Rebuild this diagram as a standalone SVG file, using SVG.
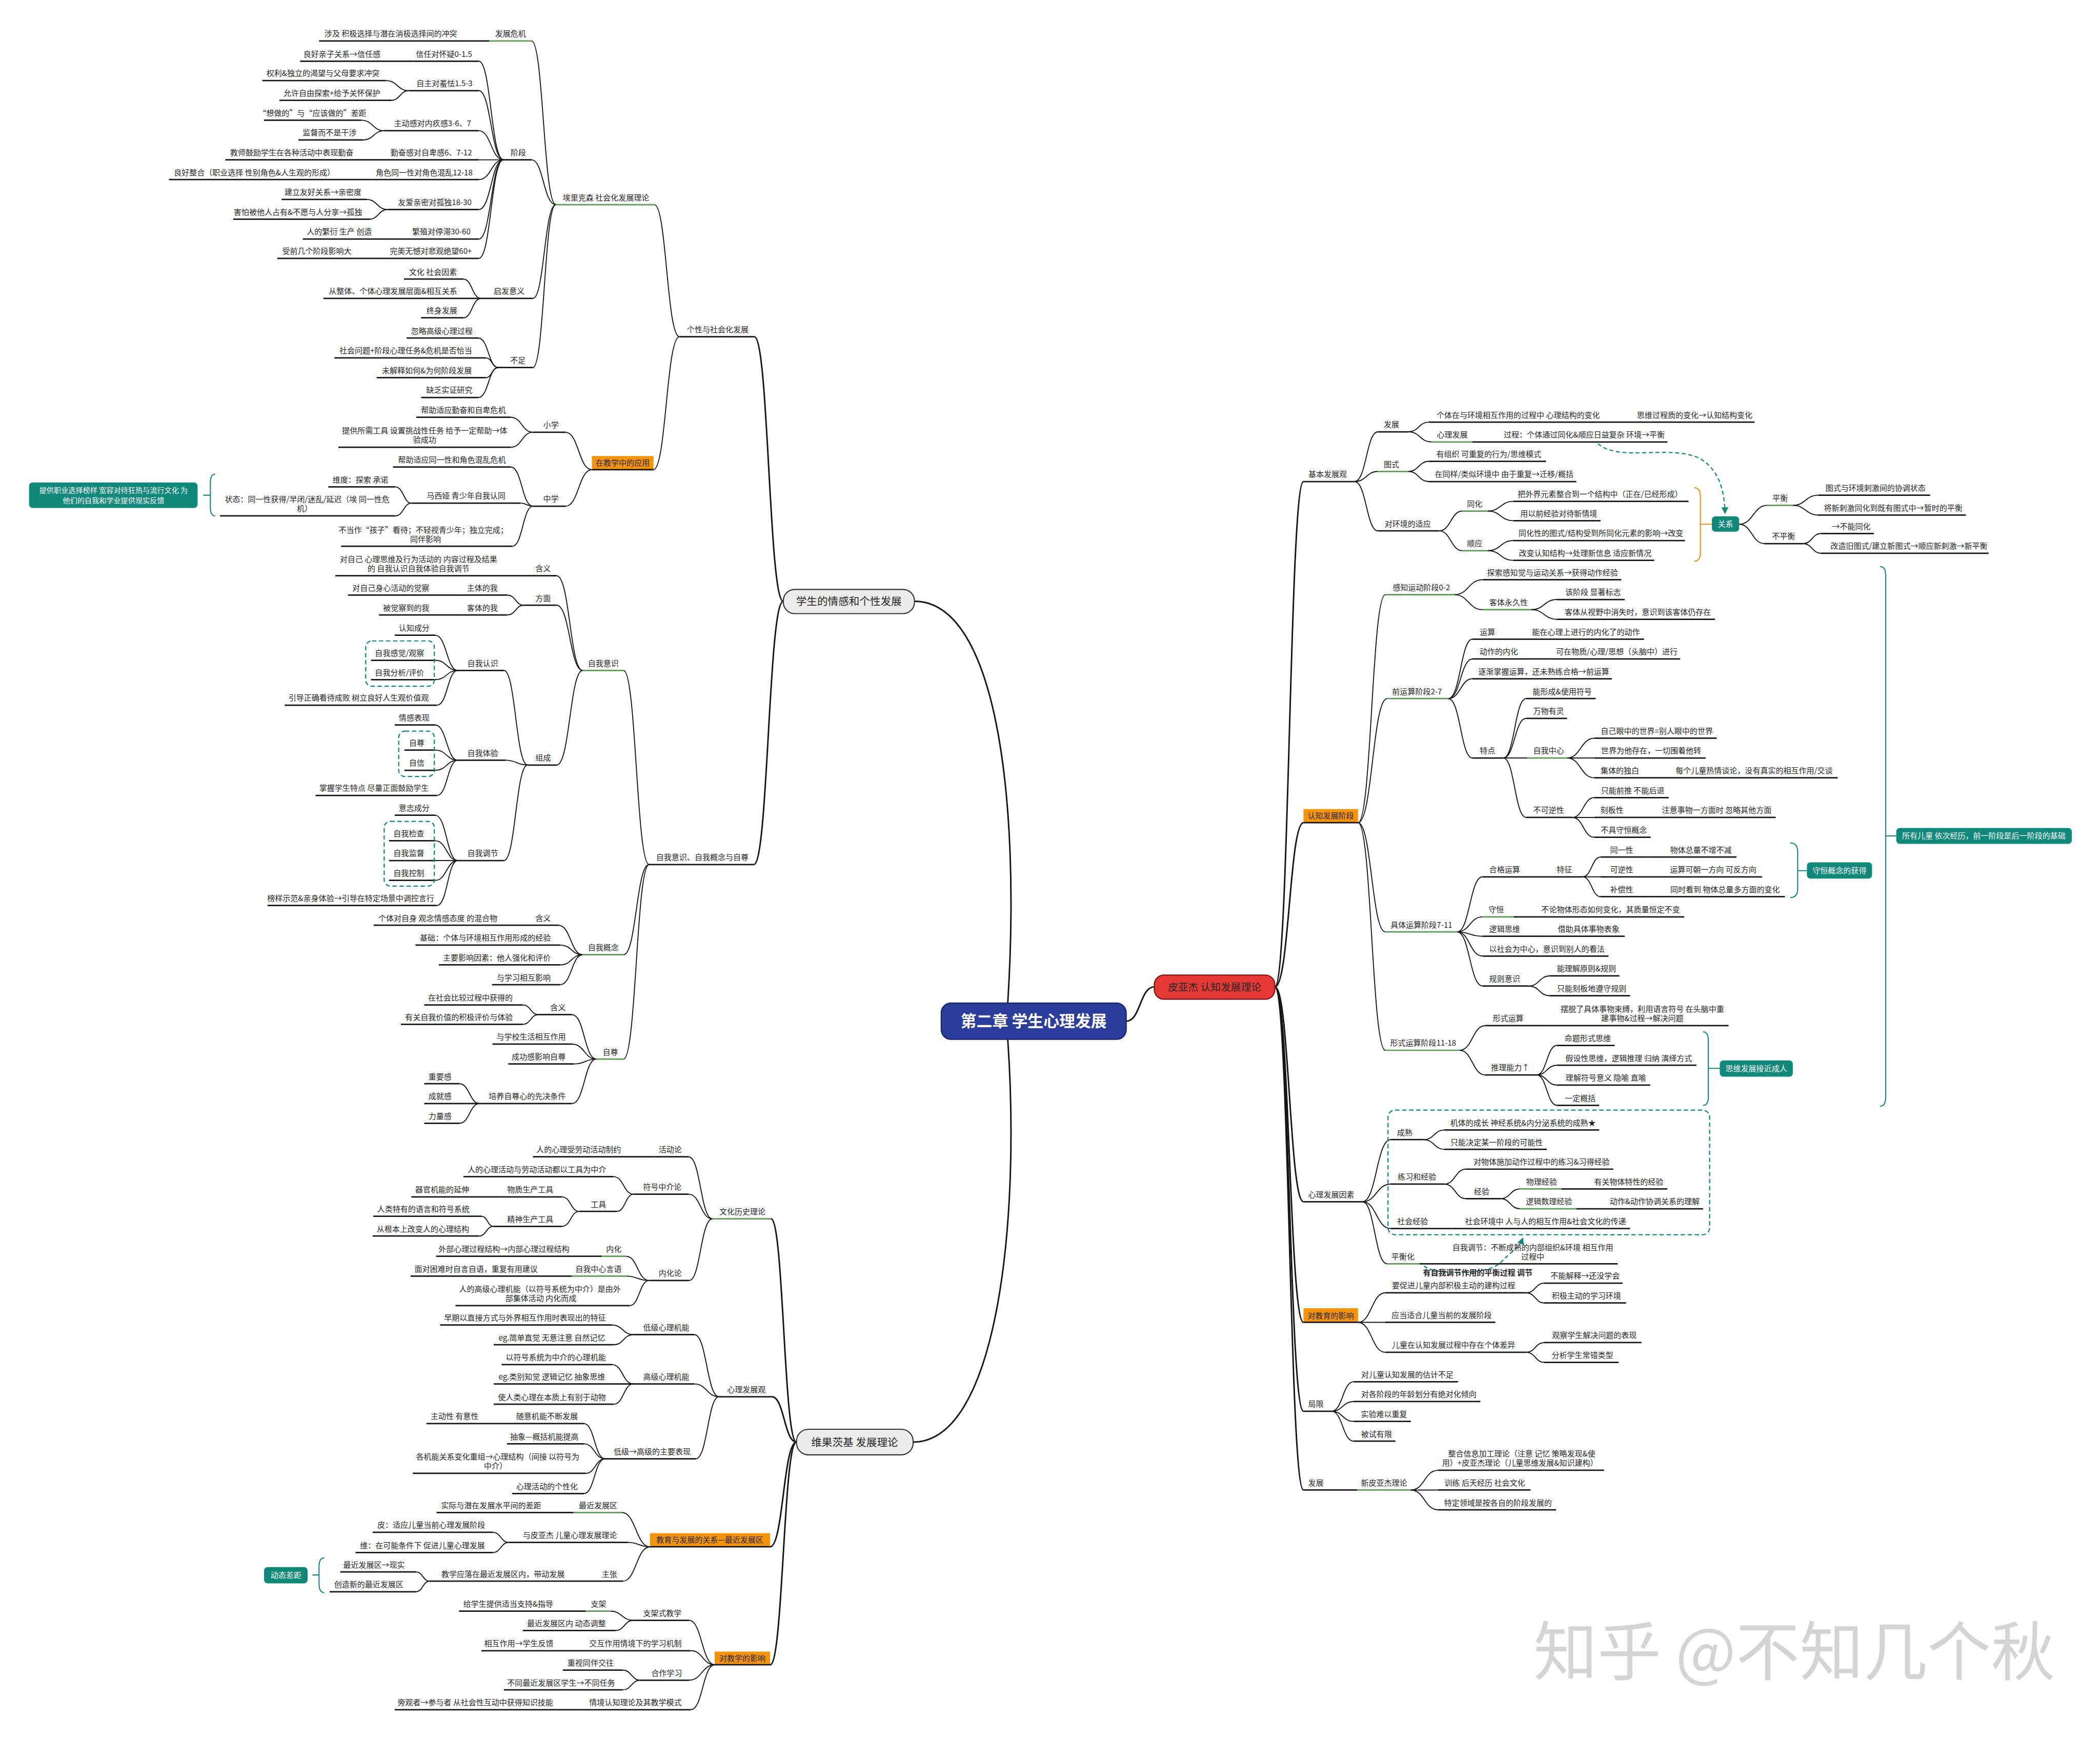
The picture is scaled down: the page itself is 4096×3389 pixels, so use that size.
<svg xmlns="http://www.w3.org/2000/svg" width="4096" height="3389" viewBox="0 0 4096 3389">
<defs>
<style>
.t{font-family:"Noto Sans CJK SC","Noto Sans",sans-serif;font-size:17.5px;fill:#262626;text-anchor:middle}
.w{fill:#fff}
.u{stroke:#151515;stroke-width:3.2;fill:none}
.g{stroke:#5b9a56;stroke-width:3.2;fill:none}
.c{fill:none;stroke:#151515;stroke-width:2.2}
.m{fill:none;stroke:#151515;stroke-width:3.4}
.ob{fill:#f5930a}
.tb{fill:#11897a}
.br{fill:none;stroke:#11897a;stroke-width:2.4}
.bro{fill:none;stroke:#f0900a;stroke-width:2.4}
.db{fill:none;stroke:#11897a;stroke-width:2.6;stroke-dasharray:10 6}
.da{fill:none;stroke:#11897a;stroke-width:2.6;stroke-dasharray:9 6}
</style>
<marker id="ah" viewBox="0 0 10 10" refX="8" refY="5" markerWidth="6" markerHeight="6" orient="auto"><path d="M0 0 L10 5 L0 10 z" fill="#11897a"/></marker>
</defs>
<rect width="4096" height="3389" fill="#fff"/>
<g transform="scale(0.85834)">
<g id="connectors">
<path class="m" d="M2078 1366 C2260 1366 2320 1800 2290 2279"/>
<path class="m" d="M2075 3276 C2260 3276 2320 2800 2290 2361"/>
<path class="m" d="M2559 2320 C2592 2320 2590 2242 2623 2242"/>
<path class="m" d="M1780 1366 C1747 1366 1747 765 1714 765"/>
<path class="m" d="M1780 1366 C1746 1366 1746 1964 1713 1964"/>
<path class="m" d="M1810 3276 C1781 3276 1781 2769 1752 2769"/>
<path class="m" d="M1810 3276 C1782 3276 1782 3173 1754 3173"/>
<path class="m" d="M1810 3276 C1780 3276 1780 3514 1750 3514"/>
<path class="m" d="M1810 3276 C1780 3276 1780 3782 1750 3782"/>
<path class="m" d="M2897 2242 C2930 2242 2930 1094 2962 1094"/>
<path class="m" d="M2897 2242 C2930 2242 2930 1869 2962 1869"/>
<path class="m" d="M2897 2242 C2930 2242 2930 2730 2962 2730"/>
<path class="m" d="M2897 2242 C2930 2242 2930 3004 2962 3004"/>
<path class="m" d="M2897 2242 C2930 2242 2930 3206 2962 3206"/>
<path class="m" d="M2897 2242 C2930 2242 2930 3385 2962 3385"/>
<path class="c" d="M1544 765 C1515 765 1515 465 1487 465"/>
<path class="c" d="M1544 765 C1514 765 1514 1067 1485 1067"/>
<path class="c" d="M1263 465 C1235 465 1235 93 1208 93"/>
<path class="c" d="M1263 465 C1235 465 1235 363 1208 363"/>
<path class="c" d="M1263 465 C1237 465 1237 678 1211 678"/>
<path class="c" d="M1263 465 C1237 465 1237 835 1211 835"/>
<path class="c" d="M1144 363 C1116 363 1116 139 1088 139"/>
<path class="c" d="M1144 363 C1116 363 1116 206 1088 206"/>
<path class="c" d="M1144 363 C1116 363 1116 297 1088 297"/>
<path class="c" d="M1144 363 H1088"/>
<path class="c" d="M1144 363 C1116 363 1116 408 1088 408"/>
<path class="c" d="M1144 363 C1116 363 1116 476 1088 476"/>
<path class="c" d="M1144 363 C1116 363 1116 543 1088 543"/>
<path class="c" d="M1144 363 C1116 363 1116 587 1088 587"/>
<path class="c" d="M929 206 C903 206 903 183 877 183"/>
<path class="c" d="M929 206 C909 206 909 228 889 228"/>
<path class="c" d="M873 297 C847 297 847 273 821 273"/>
<path class="c" d="M873 297 C849 297 849 318 825 318"/>
<path class="c" d="M881 476 C857 476 857 453 833 453"/>
<path class="c" d="M881 476 C860 476 860 498 840 498"/>
<path class="c" d="M1093 678 C1073 678 1073 634 1053 634"/>
<path class="c" d="M1093 678 C1073 678 1073 722 1053 722"/>
<path class="c" d="M1132 835 C1110 835 1110 768 1087 768"/>
<path class="c" d="M1132 835 C1118 835 1118 813 1104 813"/>
<path class="c" d="M1132 835 C1118 835 1118 858 1104 858"/>
<path class="c" d="M1132 835 C1110 835 1110 903 1087 903"/>
<path class="c" d="M1345 1067 C1315 1067 1315 982 1285 982"/>
<path class="c" d="M1345 1067 C1315 1067 1315 1150 1285 1150"/>
<path class="c" d="M1211 982 C1186 982 1186 948 1161 948"/>
<path class="c" d="M1211 982 C1186 982 1186 1016 1161 1016"/>
<path class="c" d="M1211 1150 C1186 1150 1186 1061 1161 1061"/>
<path class="c" d="M1211 1150 C1197 1150 1197 1143 1183 1143"/>
<path class="c" d="M1211 1150 C1188 1150 1188 1241 1164 1241"/>
<path class="c" d="M935 1143 C917 1143 917 1106 898 1106"/>
<path class="c" d="M935 1143 C917 1143 917 1172 898 1172"/>
<path class="c" d="M1475 1964 C1446 1964 1446 1523 1417 1523"/>
<path class="c" d="M1475 1964 C1446 1964 1446 2169 1417 2169"/>
<path class="c" d="M1475 1964 C1446 1964 1446 2406 1417 2406"/>
<path class="c" d="M1324 1523 C1295 1523 1295 1308 1265 1308"/>
<path class="c" d="M1324 1523 C1295 1523 1295 1375 1265 1375"/>
<path class="c" d="M1324 1523 C1295 1523 1295 1738 1265 1738"/>
<path class="c" d="M1190 1375 C1172 1375 1172 1352 1153 1352"/>
<path class="c" d="M1190 1375 C1172 1375 1172 1397 1153 1397"/>
<path class="c" d="M1199 1738 C1172 1738 1172 1523 1145 1523"/>
<path class="c" d="M1199 1738 C1174 1738 1174 1727 1149 1727"/>
<path class="c" d="M1199 1738 C1172 1738 1172 1955 1145 1955"/>
<path class="c" d="M1040 1523 C1015 1523 1015 1443 989 1443"/>
<path class="c" d="M1040 1523 C1015 1523 1015 1500 989 1500"/>
<path class="c" d="M1040 1523 C1015 1523 1015 1544 989 1544"/>
<path class="c" d="M1040 1523 C1017 1523 1017 1602 993 1602"/>
<path class="c" d="M1040 1727 C1015 1727 1015 1647 989 1647"/>
<path class="c" d="M1040 1727 C1015 1727 1015 1704 989 1704"/>
<path class="c" d="M1040 1727 C1015 1727 1015 1750 989 1750"/>
<path class="c" d="M1040 1727 C1017 1727 1017 1807 993 1807"/>
<path class="c" d="M1040 1955 C1015 1955 1015 1852 989 1852"/>
<path class="c" d="M1040 1955 C1015 1955 1015 1910 989 1910"/>
<path class="c" d="M1040 1955 H989"/>
<path class="c" d="M1040 1955 C1015 1955 1015 2000 989 2000"/>
<path class="c" d="M1040 1955 C1017 1955 1017 2057 993 2057"/>
<path class="c" d="M1324 2169 C1297 2169 1297 2102 1269 2102"/>
<path class="c" d="M1324 2169 C1299 2169 1299 2147 1273 2147"/>
<path class="c" d="M1324 2169 C1299 2169 1299 2192 1273 2192"/>
<path class="c" d="M1324 2169 C1299 2169 1299 2237 1273 2237"/>
<path class="c" d="M1355 2406 C1328 2406 1328 2305 1300 2305"/>
<path class="c" d="M1355 2406 C1328 2406 1328 2372 1300 2372"/>
<path class="c" d="M1355 2406 C1330 2406 1330 2417 1304 2417"/>
<path class="c" d="M1355 2406 C1328 2406 1328 2507 1300 2507"/>
<path class="c" d="M1223 2305 C1206 2305 1206 2283 1188 2283"/>
<path class="c" d="M1223 2305 C1206 2305 1206 2327 1188 2327"/>
<path class="c" d="M1090 2507 C1067 2507 1067 2462 1044 2462"/>
<path class="c" d="M1090 2507 C1067 2507 1067 2552 1044 2552"/>
<path class="c" d="M1619 2769 C1592 2769 1592 2628 1565 2628"/>
<path class="c" d="M1619 2769 C1592 2769 1592 2713 1565 2713"/>
<path class="c" d="M1619 2769 C1592 2769 1592 2909 1566 2909"/>
<path class="c" d="M1440 2713 C1417 2713 1417 2673 1394 2673"/>
<path class="c" d="M1440 2713 C1421 2713 1421 2752 1402 2752"/>
<path class="c" d="M1316 2752 C1297 2752 1297 2719 1277 2719"/>
<path class="c" d="M1316 2752 C1297 2752 1297 2786 1277 2786"/>
<path class="c" d="M1121 2786 C1108 2786 1108 2763 1094 2763"/>
<path class="c" d="M1121 2786 C1105 2786 1105 2808 1088 2808"/>
<path class="c" d="M1475 2909 C1449 2909 1449 2854 1423 2854"/>
<path class="c" d="M1475 2909 C1449 2909 1449 2899 1423 2899"/>
<path class="c" d="M1475 2909 C1453 2909 1453 2966 1431 2966"/>
<path class="c" d="M1634 3173 C1606 3173 1606 3032 1578 3032"/>
<path class="c" d="M1634 3173 C1606 3173 1606 3144 1578 3144"/>
<path class="c" d="M1634 3173 C1608 3173 1608 3314 1581 3314"/>
<path class="c" d="M1439 3032 C1415 3032 1415 3010 1391 3010"/>
<path class="c" d="M1439 3032 C1417 3032 1417 3055 1395 3055"/>
<path class="c" d="M1439 3144 C1415 3144 1415 3100 1391 3100"/>
<path class="c" d="M1439 3144 C1417 3144 1417 3190 1395 3190"/>
<path class="c" d="M1375 3314 C1351 3314 1351 3234 1327 3234"/>
<path class="c" d="M1375 3314 C1351 3314 1351 3280 1327 3280"/>
<path class="c" d="M1375 3314 C1353 3314 1353 3347 1331 3347"/>
<path class="c" d="M1375 3314 C1351 3314 1351 3393 1327 3393"/>
<path class="c" d="M1477 3514 C1445 3514 1445 3436 1413 3436"/>
<path class="c" d="M1477 3514 C1452 3514 1452 3504 1427 3504"/>
<path class="c" d="M1477 3514 C1446 3514 1446 3592 1415 3592"/>
<path class="c" d="M1156 3504 C1138 3504 1138 3481 1120 3481"/>
<path class="c" d="M1156 3504 C1138 3504 1138 3527 1120 3527"/>
<path class="c" d="M976 3592 C961 3592 961 3571 945 3571"/>
<path class="c" d="M976 3592 C961 3592 961 3616 945 3616"/>
<path class="c" d="M1624 3782 C1595 3782 1595 3681 1566 3681"/>
<path class="c" d="M1624 3782 C1597 3782 1597 3750 1570 3750"/>
<path class="c" d="M1624 3782 C1595 3782 1595 3817 1566 3817"/>
<path class="c" d="M1624 3782 C1597 3782 1597 3884 1570 3884"/>
<path class="c" d="M1439 3681 C1413 3681 1413 3660 1387 3660"/>
<path class="c" d="M1439 3681 C1419 3681 1419 3704 1399 3704"/>
<path class="c" d="M1455 3817 C1435 3817 1435 3794 1415 3794"/>
<path class="c" d="M1455 3817 C1435 3817 1435 3839 1415 3839"/>
<path class="c" d="M3078 1094 C3105 1094 3105 981 3131 981"/>
<path class="c" d="M3078 1094 C3105 1094 3105 1071 3131 1071"/>
<path class="c" d="M3078 1094 C3105 1094 3105 1206 3131 1206"/>
<path class="c" d="M3200 981 C3224 981 3224 959 3247 959"/>
<path class="c" d="M3200 981 C3227 981 3227 1004 3253 1004"/>
<path class="c" d="M3200 1071 C3224 1071 3224 1048 3247 1048"/>
<path class="c" d="M3200 1071 C3224 1071 3224 1094 3247 1094"/>
<path class="c" d="M3270 1206 C3297 1206 3297 1161 3323 1161"/>
<path class="c" d="M3270 1206 C3297 1206 3297 1251 3323 1251"/>
<path class="c" d="M3381 1161 C3410 1161 3410 1139 3439 1139"/>
<path class="c" d="M3381 1161 C3410 1161 3410 1183 3439 1183"/>
<path class="c" d="M3381 1251 C3410 1251 3410 1228 3439 1228"/>
<path class="c" d="M3381 1251 C3410 1251 3410 1273 3439 1273"/>
<path class="c" d="M3952 1191 C3984 1191 3984 1148 4016 1148"/>
<path class="c" d="M3952 1191 C3981 1191 3981 1235 4010 1235"/>
<path class="c" d="M4074 1148 C4103 1148 4103 1125 4132 1125"/>
<path class="c" d="M4074 1148 C4103 1148 4103 1170 4132 1170"/>
<path class="c" d="M4097 1235 C4118 1235 4118 1212 4138 1212"/>
<path class="c" d="M4097 1235 C4118 1235 4118 1257 4138 1257"/>
<path class="c" d="M3086 1869 C3117 1869 3117 1351 3148 1351"/>
<path class="c" d="M3086 1869 C3119 1869 3119 1587 3152 1587"/>
<path class="c" d="M3086 1869 C3117 1869 3117 2117 3148 2117"/>
<path class="c" d="M3086 1869 C3117 1869 3117 2386 3148 2386"/>
<path class="c" d="M3305 1351 C3337 1351 3337 1317 3369 1317"/>
<path class="c" d="M3305 1351 C3337 1351 3337 1385 3369 1385"/>
<path class="c" d="M3480 1385 C3509 1385 3509 1362 3538 1362"/>
<path class="c" d="M3480 1385 C3509 1385 3509 1407 3538 1407"/>
<path class="c" d="M3291 1587 C3319 1587 3319 1452 3346 1452"/>
<path class="c" d="M3291 1587 C3319 1587 3319 1497 3346 1497"/>
<path class="c" d="M3291 1587 C3319 1587 3319 1542 3346 1542"/>
<path class="c" d="M3291 1587 C3319 1587 3319 1722 3346 1722"/>
<path class="c" d="M3416 1722 C3442 1722 3442 1587 3468 1587"/>
<path class="c" d="M3416 1722 C3442 1722 3442 1632 3468 1632"/>
<path class="c" d="M3416 1722 H3471"/>
<path class="c" d="M3416 1722 C3442 1722 3442 1857 3468 1857"/>
<path class="c" d="M3561 1722 C3592 1722 3592 1677 3623 1677"/>
<path class="c" d="M3561 1722 H3623"/>
<path class="c" d="M3561 1722 C3592 1722 3592 1767 3623 1767"/>
<path class="c" d="M3573 1857 C3598 1857 3598 1812 3623 1812"/>
<path class="c" d="M3573 1857 H3623"/>
<path class="c" d="M3573 1857 C3598 1857 3598 1902 3623 1902"/>
<path class="c" d="M3311 2117 C3340 2117 3340 1992 3369 1992"/>
<path class="c" d="M3311 2117 C3340 2117 3340 2083 3369 2083"/>
<path class="c" d="M3311 2117 C3340 2117 3340 2127 3369 2127"/>
<path class="c" d="M3311 2117 C3340 2117 3340 2172 3369 2172"/>
<path class="c" d="M3311 2117 C3340 2117 3340 2240 3369 2240"/>
<path class="c" d="M3596 1992 C3617 1992 3617 1947 3637 1947"/>
<path class="c" d="M3596 1992 H3637"/>
<path class="c" d="M3596 1992 C3617 1992 3617 2037 3637 2037"/>
<path class="c" d="M3474 2240 C3498 2240 3498 2217 3521 2217"/>
<path class="c" d="M3474 2240 C3498 2240 3498 2262 3521 2262"/>
<path class="c" d="M3317 2386 C3346 2386 3346 2330 3375 2330"/>
<path class="c" d="M3317 2386 C3346 2386 3346 2442 3375 2442"/>
<path class="c" d="M3492 2442 C3515 2442 3515 2375 3538 2375"/>
<path class="c" d="M3492 2442 C3515 2442 3515 2420 3538 2420"/>
<path class="c" d="M3492 2442 C3515 2442 3515 2465 3538 2465"/>
<path class="c" d="M3492 2442 C3515 2442 3515 2511 3538 2511"/>
<path class="c" d="M3096 2730 C3128 2730 3128 2589 3160 2589"/>
<path class="c" d="M3096 2730 C3128 2730 3128 2690 3160 2690"/>
<path class="c" d="M3096 2730 C3128 2730 3128 2791 3160 2791"/>
<path class="c" d="M3096 2730 C3124 2730 3124 2871 3152 2871"/>
<path class="c" d="M3235 2589 C3259 2589 3259 2567 3282 2567"/>
<path class="c" d="M3235 2589 C3259 2589 3259 2611 3282 2611"/>
<path class="c" d="M3282 2690 C3307 2690 3307 2656 3331 2656"/>
<path class="c" d="M3282 2690 C3307 2690 3307 2723 3331 2723"/>
<path class="c" d="M3410 2723 C3432 2723 3432 2701 3454 2701"/>
<path class="c" d="M3410 2723 C3432 2723 3432 2746 3454 2746"/>
<path class="c" d="M3086 3004 C3117 3004 3117 2937 3148 2937"/>
<path class="c" d="M3086 3004 H3148"/>
<path class="c" d="M3086 3004 C3117 3004 3117 3072 3148 3072"/>
<path class="c" d="M3468 2937 C3489 2937 3489 2915 3509 2915"/>
<path class="c" d="M3468 2937 C3489 2937 3489 2960 3509 2960"/>
<path class="c" d="M3468 3072 C3489 3072 3489 3050 3509 3050"/>
<path class="c" d="M3468 3072 C3489 3072 3489 3095 3509 3095"/>
<path class="c" d="M3026 3206 C3051 3206 3051 3139 3076 3139"/>
<path class="c" d="M3026 3206 C3051 3206 3051 3184 3076 3184"/>
<path class="c" d="M3026 3206 C3051 3206 3051 3229 3076 3229"/>
<path class="c" d="M3026 3206 C3051 3206 3051 3274 3076 3274"/>
<path class="c" d="M3206 3385 C3237 3385 3237 3340 3268 3340"/>
<path class="c" d="M3206 3385 H3268"/>
<path class="c" d="M3206 3385 C3237 3385 3237 3430 3268 3430"/>
<path class="da" d="M3631 1008 C3680 1050 3790 1010 3860 1040 C3905 1065 3918 1110 3920 1165" marker-end="url(#ah)"/>
<path class="da" d="M3236 2876 C3262 2898 3385 2896 3410 2868 C3440 2838 3452 2835 3460 2814" marker-end="url(#ah)"/>
</g>

<g id="center"><rect x="2139" y="2279" width="420" height="82" rx="22" fill="#2c3d9b" stroke="#1c2a70" stroke-width="3"/><text class="t w" x="2349" y="2333" style="font-size:36px;font-weight:700">第二章 学生心理发展</text></g>
<g id="n-qg"><rect x="1780" y="1339" width="298" height="55" rx="26" fill="#ececec" stroke="#333" stroke-width="2.5"/><text class="t" x="1929" y="1375" style="font-size:24px">学生的情感和个性发展</text></g>
<g id="n-wgcj"><rect x="1810" y="3247" width="265" height="58" rx="27" fill="#ececec" stroke="#333" stroke-width="2.5"/><text class="t" x="1942" y="3285" style="font-size:24px">维果茨基 发展理论</text></g>
<g id="n-pyj"><rect x="2623" y="2215" width="274" height="55" rx="22" fill="#e53935" stroke="#7a1010" stroke-width="2.5"/><text class="t" x="2760" y="2251" style="font-size:23px">皮亚杰 认知发展理论</text></g>

<g id="n1"><path class="u" d="M1544 765H1714"/><text class="t" x="1631" y="755">个性与社会化发展</text></g>
<g id="n2"><path class="g" d="M1263 465H1487"/><text class="t" x="1377" y="455">埃里克森 社会化发展理论</text></g>
<g id="n3"><path class="g" d="M1112 93H1208"/><text class="t" x="1160" y="83">发展危机</text></g>
<g id="n3a"><path class="u" d="M725 93H1112"/><text class="t" x="888" y="83">涉及 积极选择与潜在消极选择间的冲突</text></g>
<g id="n4"><path class="u" d="M1144 363H1208"/><text class="t" x="1178" y="353">阶段</text></g>
<g id="n5"><path class="u" d="M940 139H1088"/><text class="t" x="1009" y="129">信任对怀疑0-1.5</text></g>
<g id="n5a"><path class="u" d="M682 139H940"/><text class="t" x="777" y="129">良好亲子关系→信任感</text></g>
<g id="n6"><path class="u" d="M929 206H1088"/><text class="t" x="1010" y="196">自主对羞怯1.5-3</text></g>
<g id="n6a"><path class="u" d="M596 183H877"/><text class="t" x="734" y="173">权利&amp;独立的渴望与父母要求冲突</text></g>
<g id="n6b"><path class="u" d="M635 228H889"/><text class="t" x="754" y="218">允许自由探索+给予关怀保护</text></g>
<g id="n7"><path class="u" d="M873 297H1088"/><text class="t" x="983" y="287">主动感对内疚感3-6、7</text></g>
<g id="n7a"><path class="u" d="M600 273H821"/><text class="t" x="710" y="263">“想做的”与“应该做的”差距</text></g>
<g id="n7b"><path class="u" d="M678 318H825"/><text class="t" x="749" y="308">监督而不是干涉</text></g>
<g id="n8"><path class="u" d="M875 363H1088"/><text class="t" x="980" y="353">勤奋感对自卑感6、7-12</text></g>
<g id="n8a"><path class="u" d="M512 363H875"/><text class="t" x="663" y="353">教师鼓励学生在各种活动中表现勤奋</text></g>
<g id="n9"><path class="u" d="M845 408H1088"/><text class="t" x="964" y="398">角色同一性对角色混乱12-18</text></g>
<g id="n9a"><path class="u" d="M384 408H845"/><text class="t" x="578" y="398">良好整合（职业选择 性别角色&amp;人生观的形成）</text></g>
<g id="n10"><path class="u" d="M881 476H1088"/><text class="t" x="988" y="466">友爱亲密对孤独18-30</text></g>
<g id="n10a"><path class="u" d="M640 453H833"/><text class="t" x="734" y="443">建立友好关系→亲密度</text></g>
<g id="n10b"><path class="u" d="M530 498H840"/><text class="t" x="677" y="488">害怕被他人占有&amp;不愿与人分享→孤独</text></g>
<g id="n11"><path class="u" d="M920 543H1088"/><text class="t" x="1003" y="533">繁殖对停滞30-60</text></g>
<g id="n11a"><path class="u" d="M688 543H920"/><text class="t" x="771" y="533">人的繁衍 生产 创造</text></g>
<g id="n12"><path class="u" d="M875 587H1088"/><text class="t" x="979" y="577">完美无憾对悲观绝望60+</text></g>
<g id="n12a"><path class="u" d="M630 587H875"/><text class="t" x="720" y="577">受前几个阶段影响大</text></g>
<g id="n13"><path class="u" d="M1093 678H1211"/><text class="t" x="1157" y="668">启发意义</text></g>
<g id="n13a"><path class="u" d="M918 634H1053"/><text class="t" x="984" y="624">文化 社会因素</text></g>
<g id="n13b"><path class="u" d="M735 678H1093"/><text class="t" x="893" y="668">从整体、个体心理发展层面&amp;相互关系</text></g>
<g id="n13c"><path class="u" d="M957 722H1053"/><text class="t" x="1004" y="712">终身发展</text></g>
<g id="n14"><path class="u" d="M1132 835H1211"/><text class="t" x="1177" y="825">不足</text></g>
<g id="n14a"><path class="u" d="M924 768H1087"/><text class="t" x="1004" y="758">忽略高级心理过程</text></g>
<g id="n14b"><path class="u" d="M760 813H1104"/><text class="t" x="922" y="803">社会问题+阶段心理任务&amp;危机是否恰当</text></g>
<g id="n14c"><path class="u" d="M856 858H1104"/><text class="t" x="970" y="848">未解释如何&amp;为何阶段发展</text></g>
<g id="n14d"><path class="u" d="M957 903H1087"/><text class="t" x="1021" y="893">缺乏实证研究</text></g>
<g id="n15"><rect class="ob" x="1345" y="1036" width="140" height="31"/><path class="u" d="M1345 1067H1485"/><text class="t" x="1415" y="1058">在教学中的应用</text></g>
<g id="n16"><path class="u" d="M1211 982H1285"/><text class="t" x="1252" y="972">小学</text></g>
<g id="n16a"><path class="u" d="M946 948H1161"/><text class="t" x="1053" y="938">帮助适应勤奋和自卑危机</text></g>
<g id="n16b"><path class="u" d="M769 1016H1161"/><text class="t" x="965" y="985">提供所需工具 设置挑战性任务 给予一定帮助→体</text><text class="t" x="965" y="1006">验成功</text></g>
<g id="n17"><path class="u" d="M1211 1150H1285"/><text class="t" x="1252" y="1140">中学</text></g>
<g id="n17a"><path class="u" d="M893 1061H1161"/><text class="t" x="1027" y="1051">帮助适应同一性和角色混乱危机</text></g>
<g id="n17b"><path class="u" d="M935 1143H1183"/><text class="t" x="1059" y="1133">马西娅 青少年自我认同</text></g>
<g id="n17b1"><path class="u" d="M746 1106H898"/><text class="t" x="819" y="1096">维度：探索 承诺</text></g>
<g id="n17b2"><path class="u" d="M500 1172H898"/><text class="t" x="698" y="1141">状态：同一性获得/早闭/迷乱/延迟（埃 同一性危</text><text class="t" x="692" y="1162">机）</text></g>
<g id="n17c"><path class="u" d="M775 1241H1164"/><text class="t" x="962" y="1210">不当作“孩子”看待；不轻视青少年；独立完成；</text><text class="t" x="967" y="1231">同伴影响</text></g>
<g id="callout1"><path class="br" d="M489 1077 Q478 1077 478 1097 L478 1152 Q478 1172 489 1172 M478 1125 H462"/><rect class="tb" x="66" y="1096" width="383" height="58" rx="8"/><text class="t w" x="258" y="1120" style="font-size:16.5px">提供职业选择榜样 宽容对待狂热与流行文化 为</text><text class="t w" x="258" y="1143" style="font-size:16.5px">他们的自我和学业提供现实反馈</text></g>

<g id="n20"><path class="u" d="M1475 1964H1713"/><text class="t" x="1596" y="1954">自我意识、自我概念与自尊</text></g>
<g id="n21"><path class="g" d="M1324 1523H1417"/><text class="t" x="1371" y="1513">自我意识</text></g>
<g id="n21a"><path class="u" d="M1207 1308H1265"/><text class="t" x="1234" y="1298">含义</text></g>
<g id="n21a1"><path class="u" d="M762 1308H1207"/><text class="t" x="951" y="1277">对自己 心理思维及行为活动的 内容过程及结果</text><text class="t" x="951" y="1298">的 自我认识自我体验自我调节</text></g>
<g id="n21b"><path class="u" d="M1190 1375H1265"/><text class="t" x="1234" y="1365">方面</text></g>
<g id="n21b1"><path class="u" d="M1051 1352H1153"/><text class="t" x="1096" y="1342">主体的我</text></g>
<g id="n21b1a"><path class="u" d="M791 1352H1051"/><text class="t" x="888" y="1342">对自己身心活动的觉察</text></g>
<g id="n21b2"><path class="u" d="M1051 1397H1153"/><text class="t" x="1096" y="1387">客体的我</text></g>
<g id="n21b2a"><path class="u" d="M861 1397H1051"/><text class="t" x="923" y="1387">被觉察到的我</text></g>
<g id="n21c"><path class="u" d="M1199 1738H1265"/><text class="t" x="1234" y="1728">组成</text></g>
<g id="n21c1"><path class="u" d="M1040 1523H1145"/><text class="t" x="1097" y="1513">自我认识</text></g>
<g id="n21c1a"><path class="u" d="M897 1443H989"/><text class="t" x="941" y="1433">认知成分</text></g>
<g id="n21c1b"><path class="u" d="M843 1500H989"/><text class="t" x="908" y="1490">自我感觉/观察</text></g>
<g id="n21c1c"><path class="u" d="M843 1544H989"/><text class="t" x="908" y="1534">自我分析/评价</text></g>
<rect class="db" x="831" y="1456" width="156" height="103" rx="14"/>
<g id="n21c1d"><path class="u" d="M647 1602H993"/><text class="t" x="815" y="1592">引导正确看待成败 树立良好人生观价值观</text></g>
<g id="n21c2"><path class="u" d="M1040 1727H1149"/><text class="t" x="1097" y="1717">自我体验</text></g>
<g id="n21c2a"><path class="u" d="M897 1647H989"/><text class="t" x="941" y="1637">情感表现</text></g>
<g id="n21c2b"><path class="u" d="M919 1704H989"/><text class="t" x="947" y="1694">自尊</text></g>
<g id="n21c2c"><path class="u" d="M919 1750H989"/><text class="t" x="947" y="1740">自信</text></g>
<rect class="db" x="906" y="1661" width="81" height="103" rx="14"/>
<g id="n21c2d"><path class="u" d="M717 1807H993"/><text class="t" x="850" y="1797">掌握学生特点 尽量正面鼓励学生</text></g>
<g id="n21c3"><path class="u" d="M1040 1955H1145"/><text class="t" x="1097" y="1945">自我调节</text></g>
<g id="n21c3a"><path class="u" d="M897 1852H989"/><text class="t" x="941" y="1842">意志成分</text></g>
<g id="n21c3b"><path class="u" d="M884 1910H989"/><text class="t" x="929" y="1900">自我检查</text></g>
<g id="n21c3c"><path class="u" d="M884 1955H989"/><text class="t" x="929" y="1945">自我监督</text></g>
<g id="n21c3d"><path class="u" d="M884 2000H989"/><text class="t" x="929" y="1990">自我控制</text></g>
<rect class="db" x="873" y="1866" width="114" height="147" rx="14"/>
<g id="n21c3e"><path class="u" d="M608 2057H993"/><text class="t" x="797" y="2047">榜样示范&amp;亲身体验→引导在特定场景中调控言行</text></g>
<g id="n22"><path class="g" d="M1324 2169H1417"/><text class="t" x="1371" y="2159">自我概念</text></g>
<g id="n22a"><path class="u" d="M1207 2102H1269"/><text class="t" x="1234" y="2092">含义</text></g>
<g id="n22a1"><path class="u" d="M849 2102H1207"/><text class="t" x="995" y="2092">个体对自身 观念情感态度 的混合物</text></g>
<g id="n22b"><path class="u" d="M944 2147H1273"/><text class="t" x="1103" y="2137">基础：个体与环境相互作用形成的经验</text></g>
<g id="n22c"><path class="u" d="M997 2192H1273"/><text class="t" x="1129" y="2182">主要影响因素：他人强化和评价</text></g>
<g id="n22d"><path class="u" d="M1118 2237H1273"/><text class="t" x="1190" y="2227">与学习相互影响</text></g>
<g id="n23"><path class="g" d="M1355 2406H1417"/><text class="t" x="1387" y="2396">自尊</text></g>
<g id="n23a"><path class="u" d="M1223 2305H1300"/><text class="t" x="1268" y="2295">含义</text></g>
<g id="n23a1"><path class="u" d="M964 2283H1188"/><text class="t" x="1069" y="2273">在社会比较过程中获得的</text></g>
<g id="n23a2"><path class="u" d="M911 2327H1188"/><text class="t" x="1043" y="2317">有关自我价值的积极评价与体验</text></g>
<g id="n23b"><path class="u" d="M1119 2372H1300"/><text class="t" x="1207" y="2362">与学校生活相互作用</text></g>
<g id="n23c"><path class="u" d="M1155 2417H1304"/><text class="t" x="1224" y="2407">成功感影响自尊</text></g>
<g id="n23d"><path class="u" d="M1090 2507H1300"/><text class="t" x="1198" y="2497">培养自尊心的先决条件</text></g>
<g id="n23d1"><path class="u" d="M964 2462H1044"/><text class="t" x="1000" y="2452">重要感</text></g>
<g id="n23d2"><path class="u" d="M964 2507H1090"/><text class="t" x="1000" y="2497">成就感</text></g>
<g id="n23d3"><path class="u" d="M964 2552H1044"/><text class="t" x="1000" y="2542">力量感</text></g>

<g id="n30"><path class="g" d="M1619 2769H1752"/><text class="t" x="1687" y="2759">文化历史理论</text></g>
<g id="n30a"><path class="u" d="M1487 2628H1565"/><text class="t" x="1523" y="2618">活动论</text></g>
<g id="n30a1"><path class="u" d="M1211 2628H1487"/><text class="t" x="1315" y="2618">人的心理受劳动活动制约</text></g>
<g id="n30b"><path class="u" d="M1440 2713H1565"/><text class="t" x="1505" y="2703">符号中介论</text></g>
<g id="n30b1"><path class="u" d="M1053 2673H1394"/><text class="t" x="1220" y="2663">人的心理活动与劳动活动都以工具为中介</text></g>
<g id="n30b2"><path class="u" d="M1316 2752H1402"/><text class="t" x="1360" y="2742">工具</text></g>
<g id="n30b2a"><path class="u" d="M1135 2719H1277"/><text class="t" x="1205" y="2709">物质生产工具</text></g>
<g id="n30b2a1"><path class="u" d="M935 2719H1135"/><text class="t" x="1005" y="2709">器官机能的延伸</text></g>
<g id="n30b2b"><path class="u" d="M1121 2786H1277"/><text class="t" x="1205" y="2776">精神生产工具</text></g>
<g id="n30b2b1"><path class="u" d="M848 2763H1094"/><text class="t" x="962" y="2753">人类特有的语言和符号系统</text></g>
<g id="n30b2b2"><path class="u" d="M847 2808H1088"/><text class="t" x="961" y="2798">从根本上改变人的心理结构</text></g>
<g id="n30c"><path class="u" d="M1475 2909H1566"/><text class="t" x="1523" y="2899">内化论</text></g>
<g id="n30c1"><path class="g" d="M1367 2854H1423"/><text class="t" x="1395" y="2844">内化</text></g>
<g id="n30c1a"><path class="u" d="M991 2854H1367"/><text class="t" x="1145" y="2844">外部心理过程结构→内部心理过程结构</text></g>
<g id="n30c2"><path class="g" d="M1299 2899H1423"/><text class="t" x="1360" y="2889">自我中心言语</text></g>
<g id="n30c2a"><path class="u" d="M933 2899H1299"/><text class="t" x="1082" y="2889">面对困难时自言自语，重复有用建议</text></g>
<g id="n30c3"><path class="u" d="M1035 2966H1431"/><text class="t" x="1227" y="2935">人的高级心理机能（以符号系统为中介）是由外</text><text class="t" x="1229" y="2956">部集体活动 内化而成</text></g>
<g id="n31"><path class="u" d="M1634 3173H1754"/><text class="t" x="1696" y="3163">心理发展观</text></g>
<g id="n31a"><path class="u" d="M1439 3032H1578"/><text class="t" x="1514" y="3022">低级心理机能</text></g>
<g id="n31a1"><path class="u" d="M1000 3010H1391"/><text class="t" x="1193" y="3000">早期以直接方式与外界相互作用时表现出的特征</text></g>
<g id="n31a2"><path class="u" d="M1122 3055H1395"/><text class="t" x="1254" y="3045">eg.简单直觉 无意注意 自然记忆</text></g>
<g id="n31b"><path class="u" d="M1439 3144H1578"/><text class="t" x="1514" y="3134">高级心理机能</text></g>
<g id="n31b1"><path class="u" d="M1140 3100H1391"/><text class="t" x="1263" y="3090">以符号系统为中介的心理机能</text></g>
<g id="n31b2"><path class="u" d="M1122 3144H1439"/><text class="t" x="1254" y="3134">eg.类别知觉 逻辑记忆 抽象思维</text></g>
<g id="n31b3"><path class="u" d="M1122 3190H1395"/><text class="t" x="1254" y="3180">使人类心理在本质上有别于动物</text></g>
<g id="n31c"><path class="u" d="M1375 3314H1581"/><text class="t" x="1482" y="3304">低级→高级的主要表现</text></g>
<g id="n31c1"><path class="u" d="M1164 3234H1327"/><text class="t" x="1243" y="3224">随意机能不断发展</text></g>
<g id="n31c1a"><path class="u" d="M969 3234H1164"/><text class="t" x="1033" y="3224">主动性 有意性</text></g>
<g id="n31c2"><path class="u" d="M1152 3280H1327"/><text class="t" x="1237" y="3270">抽象—概括机能提高</text></g>
<g id="n31c3"><path class="u" d="M938 3347H1331"/><text class="t" x="1131" y="3316">各机能关系变化重组→心理结构（间接 以符号为</text><text class="t" x="1126" y="3337">中介）</text></g>
<g id="n31c4"><path class="u" d="M1164 3393H1327"/><text class="t" x="1243" y="3383">心理活动的个性化</text></g>
<g id="n32"><rect class="ob" x="1477" y="3483" width="273" height="31"/><path class="u" d="M1477 3514H1750"/><text class="t" x="1613" y="3505">教育与发展的关系—最近发展区</text></g>
<g id="n32a"><path class="g" d="M1303 3436H1413"/><text class="t" x="1359" y="3426">最近发展区</text></g>
<g id="n32a1"><path class="u" d="M992 3436H1303"/><text class="t" x="1116" y="3426">实际与潜在发展水平间的差距</text></g>
<g id="n32b"><path class="u" d="M1156 3504H1427"/><text class="t" x="1295" y="3494">与皮亚杰 儿童心理发展理论</text></g>
<g id="n32b1"><path class="u" d="M847 3481H1120"/><text class="t" x="980" y="3471">皮：适应儿童当前心理发展阶段</text></g>
<g id="n32b2"><path class="u" d="M808 3527H1120"/><text class="t" x="960" y="3517">维：在可能条件下 促进儿童心理发展</text></g>
<g id="n32c"><path class="u" d="M1291 3592H1415"/><text class="t" x="1385" y="3582">主张</text></g>
<g id="n32c1"><path class="u" d="M976 3592H1291"/><text class="t" x="1143" y="3582">教学应落在最近发展区内，带动发展</text></g>
<g id="n32c1a"><path class="u" d="M773 3571H945"/><text class="t" x="850" y="3561">最近发展区→现实</text></g>
<g id="n32c1b"><path class="u" d="M749 3616H945"/><text class="t" x="838" y="3606">创造新的最近发展区</text></g>
<g id="callout2"><path class="br" d="M737 3539 Q725 3539 725 3559 L725 3598 Q725 3618 737 3618 M725 3578 H710"/><rect class="tb" x="600" y="3560" width="99" height="37" rx="8"/><text class="t w" x="650" y="3585">动态差距</text></g>
<g id="n33"><rect class="ob" x="1624" y="3752" width="126" height="30"/><path class="u" d="M1624 3782H1750"/><text class="t" x="1687" y="3773">对教学的影响</text></g>
<g id="n33a"><path class="u" d="M1439 3681H1566"/><text class="t" x="1505" y="3671">支架式教学</text></g>
<g id="n33a1"><path class="g" d="M1331 3660H1387"/><text class="t" x="1360" y="3650">支架</text></g>
<g id="n33a1a"><path class="u" d="M1043 3660H1331"/><text class="t" x="1155" y="3650">给学生提供适当支持&amp;指导</text></g>
<g id="n33a2"><path class="u" d="M1188 3704H1399"/><text class="t" x="1287" y="3694">最近发展区内 动态调整</text></g>
<g id="n33b"><path class="u" d="M1327 3750H1570"/><text class="t" x="1444" y="3740">交互作用情境下的学习机制</text></g>
<g id="n33b1"><path class="u" d="M1094 3750H1327"/><text class="t" x="1179" y="3740">相互作用→学生反馈</text></g>
<g id="n33c"><path class="u" d="M1455 3817H1566"/><text class="t" x="1515" y="3807">合作学习</text></g>
<g id="n33c1"><path class="u" d="M1279 3794H1415"/><text class="t" x="1342" y="3784">重视同伴交往</text></g>
<g id="n33c2"><path class="u" d="M1145 3839H1415"/><text class="t" x="1275" y="3829">不同最近发展区学生→不同任务</text></g>
<g id="n33d"><path class="u" d="M1327 3884H1570"/><text class="t" x="1444" y="3874">情境认知理论及其教学模式</text></g>
<g id="n33d1"><path class="u" d="M897 3884H1327"/><text class="t" x="1080" y="3874">旁观者→参与者 从社会性互动中获得知识技能</text></g>

<g id="n40"><path class="u" d="M2962 1094H3078"/><text class="t" x="3017" y="1084">基本发展观</text></g>
<g id="n40a"><path class="u" d="M3131 981H3200"/><text class="t" x="3162" y="971">发展</text></g>
<g id="n40a1"><path class="u" d="M3247 959H3713"/><text class="t" x="3450" y="949">个体在与环境相互作用的过程中 心理结构的变化</text></g>
<g id="n40a1a"><path class="u" d="M3713 959H3987"/><text class="t" x="3851" y="949">思维过程质的变化→认知结构变化</text></g>
<g id="n40a2"><path class="g" d="M3253 1004H3346"/><text class="t" x="3300" y="994">心理发展</text></g>
<g id="n40a2a"><path class="u" d="M3346 1004H3789"/><text class="t" x="3600" y="994">过程：个体通过同化&amp;顺应日益复杂 环境→平衡</text></g>
<g id="n40b"><path class="g" d="M3131 1071H3200"/><text class="t" x="3162" y="1061">图式</text></g>
<g id="n40b1"><path class="u" d="M3247 1048H3513"/><text class="t" x="3383" y="1038">有组织 可重复的行为/思维模式</text></g>
<g id="n40b2"><path class="u" d="M3247 1094H3582"/><text class="t" x="3418" y="1084">在同样/类似环境中 由于重复→迁移/概括</text></g>
<g id="n40c"><path class="u" d="M3131 1206H3270"/><text class="t" x="3199" y="1196">对环境的适应</text></g>
<g id="n40c1"><path class="g" d="M3323 1161H3381"/><text class="t" x="3351" y="1151">同化</text></g>
<g id="n40c1a"><path class="u" d="M3439 1139H3837"/><text class="t" x="3636" y="1129">把外界元素整合到一个结构中（正在/已经形成）</text></g>
<g id="n40c1b"><path class="u" d="M3439 1183H3637"/><text class="t" x="3542" y="1173">用以前经验对待新情境</text></g>
<g id="n40c2"><path class="g" d="M3323 1251H3381"/><text class="t" x="3351" y="1241">顺应</text></g>
<g id="n40c2a"><path class="u" d="M3439 1228H3829"/><text class="t" x="3638" y="1218">同化性的图式/结构受到所同化元素的影响→改变</text></g>
<g id="n40c2b"><path class="u" d="M3439 1273H3759"/><text class="t" x="3602" y="1263">改变认知结构→处理新信息 适应新情况</text></g>
<path class="bro" d="M3850 1108 Q3864 1108 3864 1128 L3864 1255 Q3864 1275 3850 1275 M3864 1191 H3890"/>
<g id="n-gx"><rect class="tb" x="3890" y="1173" width="62" height="35" rx="8"/><text class="t w" x="3921" y="1197">关系</text></g>
<g id="n41a"><path class="g" d="M4016 1148H4074"/><text class="t" x="4045" y="1138">平衡</text></g>
<g id="n41a1"><path class="u" d="M4132 1125H4386"/><text class="t" x="4262" y="1115">图式与环境刺激间的协调状态</text></g>
<g id="n41a2"><path class="u" d="M4132 1170H4467"/><text class="t" x="4302" y="1160">将新刺激同化到既有图式中→暂时的平衡</text></g>
<g id="n41b"><path class="u" d="M4010 1235H4097"/><text class="t" x="4053" y="1225">不平衡</text></g>
<g id="n41b1"><path class="u" d="M4138 1212H4258"/><text class="t" x="4207" y="1202">→不能同化</text></g>
<g id="n41b2"><path class="u" d="M4138 1257H4519"/><text class="t" x="4338" y="1247">改造旧图式/建立新图式→顺应新刺激→新平衡</text></g>

<g id="n42"><rect class="ob" x="2962" y="1838" width="124" height="31"/><path class="u" d="M2962 1869H3086"/><text class="t" x="3024" y="1860">认知发展阶段</text></g>
<g id="n42a"><path class="g" d="M3148 1351H3305"/><text class="t" x="3230" y="1341">感知运动阶段0-2</text></g>
<g id="n42a1"><path class="u" d="M3369 1317H3684"/><text class="t" x="3528" y="1307">探索感知觉与运动关系→获得动作经验</text></g>
<g id="n42a2"><path class="g" d="M3369 1385H3480"/><text class="t" x="3428" y="1375">客体永久性</text></g>
<g id="n42a2a"><path class="u" d="M3538 1362H3692"/><text class="t" x="3620" y="1352">该阶段 显著标志</text></g>
<g id="n42a2b"><path class="u" d="M3538 1407H3897"/><text class="t" x="3722" y="1397">客体从视野中消失时，意识到该客体仍存在</text></g>
<g id="n42b"><path class="g" d="M3152 1587H3291"/><text class="t" x="3220" y="1577">前运算阶段2-7</text></g>
<g id="n42b1"><path class="u" d="M3346 1452H3480"/><text class="t" x="3380" y="1442">运算</text></g>
<g id="n42b1a"><path class="u" d="M3480 1452H3736"/><text class="t" x="3604" y="1442">能在心理上进行的内化了的动作</text></g>
<g id="n42b2"><path class="u" d="M3346 1497H3525"/><text class="t" x="3406" y="1487">动作的内化</text></g>
<g id="n42b2a"><path class="u" d="M3525 1497H3818"/><text class="t" x="3674" y="1487">可在物质/心理/思想（头脑中）进行</text></g>
<g id="n42b3"><path class="u" d="M3346 1542H3663"/><text class="t" x="3508" y="1532">逐渐掌握运算，还未熟练合格→前运算</text></g>
<g id="n42b4"><path class="u" d="M3346 1722H3416"/><text class="t" x="3380" y="1712">特点</text></g>
<g id="n42b4a"><path class="u" d="M3468 1587H3626"/><text class="t" x="3550" y="1577">能形成&amp;使用符号</text></g>
<g id="n42b4b"><path class="u" d="M3468 1632H3561"/><text class="t" x="3519" y="1622">万物有灵</text></g>
<g id="n42b4c"><path class="g" d="M3471 1722H3561"/><text class="t" x="3519" y="1712">自我中心</text></g>
<g id="n42b4c1"><path class="u" d="M3623 1677H3901"/><text class="t" x="3765" y="1667">自己眼中的世界=别人眼中的世界</text></g>
<g id="n42b4c2"><path class="u" d="M3623 1722H3876"/><text class="t" x="3752" y="1712">世界为他存在，一切围着他转</text></g>
<g id="n42b4c3"><path class="u" d="M3623 1767H3740"/><text class="t" x="3681" y="1757">集体的独白</text></g>
<g id="n42b4c3a"><path class="u" d="M3740 1767H4176"/><text class="t" x="3986" y="1757">每个儿童热情谈论，没有真实的相互作用/交谈</text></g>
<g id="n42b4d"><path class="u" d="M3468 1857H3573"/><text class="t" x="3519" y="1847">不可逆性</text></g>
<g id="n42b4d1"><path class="u" d="M3623 1812H3792"/><text class="t" x="3710" y="1802">只能前推 不能后退</text></g>
<g id="n42b4d2"><path class="u" d="M3623 1857H3705"/><text class="t" x="3663" y="1847">刻板性</text></g>
<g id="n42b4d2a"><path class="u" d="M3705 1857H4035"/><text class="t" x="3901" y="1847">注意事物一方面时 忽略其他方面</text></g>
<g id="n42b4d3"><path class="u" d="M3623 1902H3751"/><text class="t" x="3690" y="1892">不具守恒概念</text></g>
<g id="n42c"><path class="g" d="M3148 2117H3311"/><text class="t" x="3230" y="2107">具体运算阶段7-11</text></g>
<g id="n42c1"><path class="u" d="M3369 1992H3480"/><text class="t" x="3419" y="1982">合格运算</text></g>
<g id="n42c1a"><path class="u" d="M3480 1992H3596"/><text class="t" x="3555" y="1982">特征</text></g>
<g id="n42c1a1"><path class="u" d="M3637 1947H3745"/><text class="t" x="3685" y="1937">同一性</text></g>
<g id="n42c1a1a"><path class="u" d="M3745 1947H3946"/><text class="t" x="3865" y="1937">物体总量不增不减</text></g>
<g id="n42c1a2"><path class="u" d="M3637 1992H3745"/><text class="t" x="3685" y="1982">可逆性</text></g>
<g id="n42c1a2a"><path class="u" d="M3745 1992H4004"/><text class="t" x="3893" y="1982">运算可朝一方向 可反方向</text></g>
<g id="n42c1a3"><path class="u" d="M3637 2037H3745"/><text class="t" x="3685" y="2027">补偿性</text></g>
<g id="n42c1a3a"><path class="u" d="M3745 2037H4056"/><text class="t" x="3920" y="2027">同时看到 物体总量多方面的变化</text></g>
<g id="callout3"><path class="br" d="M4068 1915 Q4085 1915 4085 1935 L4085 2019 Q4085 2039 4068 2039 M4085 1978 H4106"/><rect class="tb" x="4106" y="1959" width="148" height="37" rx="8"/><text class="t w" x="4180" y="1984">守恒概念的获得</text></g>
<g id="n42c2"><path class="g" d="M3369 2083H3440"/><text class="t" x="3400" y="2073">守恒</text></g>
<g id="n42c2a"><path class="u" d="M3440 2083H3827"/><text class="t" x="3660" y="2073">不论物体形态如何变化，其质量恒定不变</text></g>
<g id="n42c3"><path class="u" d="M3369 2127H3520"/><text class="t" x="3419" y="2117">逻辑思维</text></g>
<g id="n42c3a"><path class="u" d="M3520 2127H3692"/><text class="t" x="3610" y="2117">借助具体事物表象</text></g>
<g id="n42c4"><path class="u" d="M3369 2172H3655"/><text class="t" x="3515" y="2162">以社会为中心，意识到别人的看法</text></g>
<g id="n42c5"><path class="u" d="M3369 2240H3474"/><text class="t" x="3419" y="2230">规则意识</text></g>
<g id="n42c5a"><path class="u" d="M3521 2217H3680"/><text class="t" x="3605" y="2207">能理解原则&amp;规则</text></g>
<g id="n42c5b"><path class="u" d="M3521 2262H3704"/><text class="t" x="3617" y="2252">只能刻板地遵守规则</text></g>
<g id="n42d"><path class="g" d="M3148 2386H3317"/><text class="t" x="3234" y="2376">形式运算阶段11-18</text></g>
<g id="n42d1"><path class="u" d="M3375 2330H3530"/><text class="t" x="3427" y="2320">形式运算</text></g>
<g id="n42d1a"><path class="u" d="M3530 2330H3928"/><text class="t" x="3732" y="2299">摆脱了具体事物束缚，利用语言符号 在头脑中重</text><text class="t" x="3732" y="2320">建事物&amp;过程→解决问题</text></g>
<g id="n42d2"><path class="u" d="M3375 2442H3492"/><text class="t" x="3432" y="2432">推理能力↑</text></g>
<g id="n42d2a"><path class="u" d="M3538 2375H3669"/><text class="t" x="3608" y="2365">命题形式思维</text></g>
<g id="n42d2b"><path class="u" d="M3538 2420H3855"/><text class="t" x="3701" y="2410">假设性思维，逻辑推理 归纳 演绎方式</text></g>
<g id="n42d2c"><path class="u" d="M3538 2465H3750"/><text class="t" x="3649" y="2455">理解符号意义 隐喻 直喻</text></g>
<g id="n42d2d"><path class="u" d="M3538 2511H3634"/><text class="t" x="3591" y="2501">一定概括</text></g>
<g id="callout4"><path class="br" d="M3870 2344 Q3882 2344 3882 2364 L3882 2491 Q3882 2511 3870 2511 M3882 2427 H3908"/><rect class="tb" x="3908" y="2409" width="166" height="37" rx="8"/><text class="t w" x="3991" y="2434">思维发展接近成人</text></g>
<g id="callout5"><path class="br" d="M4272 1287 Q4285 1287 4285 1307 L4285 2493 Q4285 2513 4272 2513 M4285 1899 H4309"/><rect class="tb" x="4309" y="1881" width="399" height="36" rx="8"/><text class="t w" x="4508" y="1905">所有儿童 依次经历，前一阶段是后一阶段的基础</text></g>

<g id="n43"><path class="u" d="M2962 2730H3096"/><text class="t" x="3025" y="2720">心理发展因素</text></g>
<rect class="db" x="3154" y="2522" width="731" height="283" rx="16"/>
<g id="n43a"><path class="u" d="M3160 2589H3235"/><text class="t" x="3192" y="2579">成熟</text></g>
<g id="n43a1"><path class="u" d="M3282 2567H3634"/><text class="t" x="3461" y="2557">机体的成长 神经系统&amp;内分泌系统的成熟★</text></g>
<g id="n43a2"><path class="u" d="M3282 2611H3515"/><text class="t" x="3401" y="2601">只能决定某一阶段的可能性</text></g>
<g id="n43b"><path class="u" d="M3160 2690H3282"/><text class="t" x="3220" y="2680">练习和经验</text></g>
<g id="n43b1"><path class="u" d="M3331 2656H3666"/><text class="t" x="3503" y="2646">对物体施加动作过程中的练习&amp;习得经验</text></g>
<g id="n43b2"><path class="u" d="M3331 2723H3410"/><text class="t" x="3367" y="2713">经验</text></g>
<g id="n43b2a"><path class="g" d="M3454 2701H3548"/><text class="t" x="3503" y="2691">物理经验</text></g>
<g id="n43b2a1"><path class="u" d="M3548 2701H3789"/><text class="t" x="3701" y="2691">有关物体特性的经验</text></g>
<g id="n43b2b"><path class="g" d="M3454 2746H3582"/><text class="t" x="3520" y="2736">逻辑数理经验</text></g>
<g id="n43b2b1"><path class="u" d="M3582 2746H3870"/><text class="t" x="3760" y="2736">动作&amp;动作协调关系的理解</text></g>
<g id="n43c"><path class="u" d="M3160 2791H3300"/><text class="t" x="3210" y="2781">社会经验</text></g>
<g id="n43c1"><path class="u" d="M3300 2791H3704"/><text class="t" x="3512" y="2781">社会环境中 人与人的相互作用&amp;社会文化的传递</text></g>
<g id="n43d"><path class="g" d="M3152 2871H3226"/><text class="t" x="3188" y="2861">平衡化</text></g>
<g id="n43d1"><path class="u" d="M3226 2871H3676"/><text class="t" x="3483" y="2840">自我调节：不断成熟的内部组织&amp;环境 相互作用</text><text class="t" x="3483" y="2861">过程中</text></g>
<text class="t" x="3358" y="2898" style="font-weight:600">有自我调节作用的平衡过程 调节</text>
<g id="n44"><rect class="ob" x="2962" y="2972" width="124" height="32"/><path class="u" d="M2962 3004H3086"/><text class="t" x="3024" y="2995">对教育的影响</text></g>
<g id="n44a"><path class="u" d="M3148 2937H3468"/><text class="t" x="3303" y="2927">要促进儿童内部积极主动的建构过程</text></g>
<g id="n44a1"><path class="u" d="M3509 2915H3687"/><text class="t" x="3602" y="2905">不能解释→还没学会</text></g>
<g id="n44a2"><path class="u" d="M3509 2960H3695"/><text class="t" x="3605" y="2950">积极主动的学习环境</text></g>
<g id="n44b"><path class="u" d="M3148 3004H3398"/><text class="t" x="3276" y="2994">应当适合儿童当前的发展阶段</text></g>
<g id="n44c"><path class="u" d="M3148 3072H3468"/><text class="t" x="3303" y="3062">儿童在认知发展过程中存在个体差异</text></g>
<g id="n44c1"><path class="u" d="M3509 3050H3730"/><text class="t" x="3623" y="3040">观察学生解决问题的表现</text></g>
<g id="n44c2"><path class="u" d="M3509 3095H3678"/><text class="t" x="3596" y="3085">分析学生常错类型</text></g>
<g id="n45"><path class="u" d="M2962 3206H3026"/><text class="t" x="2990" y="3196">局限</text></g>
<g id="n45a"><path class="u" d="M3076 3139H3313"/><text class="t" x="3198" y="3129">对儿童认知发展的估计不足</text></g>
<g id="n45b"><path class="u" d="M3076 3184H3364"/><text class="t" x="3224" y="3174">对各阶段的年龄划分有绝对化倾向</text></g>
<g id="n45c"><path class="u" d="M3076 3229H3206"/><text class="t" x="3145" y="3219">实验难以重复</text></g>
<g id="n45d"><path class="u" d="M3076 3274H3171"/><text class="t" x="3128" y="3264">被试有限</text></g>
<g id="n46"><path class="u" d="M2962 3385H3084"/><text class="t" x="2990" y="3375">发展</text></g>
<g id="n46a"><path class="g" d="M3084 3385H3206"/><text class="t" x="3145" y="3375">新皮亚杰理论</text></g>
<g id="n46a1"><path class="u" d="M3268 3340H3645"/><text class="t" x="3458" y="3309">整合信息加工理论（注意 记忆 策略发现&amp;使</text><text class="t" x="3454" y="3330">用）+皮亚杰理论（儿童思维发展&amp;知识建构）</text></g>
<g id="n46a2"><path class="u" d="M3268 3385H3478"/><text class="t" x="3374" y="3375">训练 后天经历 社会文化</text></g>
<g id="n46a3"><path class="u" d="M3268 3430H3536"/><text class="t" x="3404" y="3420">特定领域是按各自的阶段发展的</text></g>

<text x="3485" y="3805" style="font-family:'Noto Sans CJK SC',sans-serif;font-size:145px;fill:#d4d4d4">知乎 @不知几个秋</text>
</g>
</svg>
